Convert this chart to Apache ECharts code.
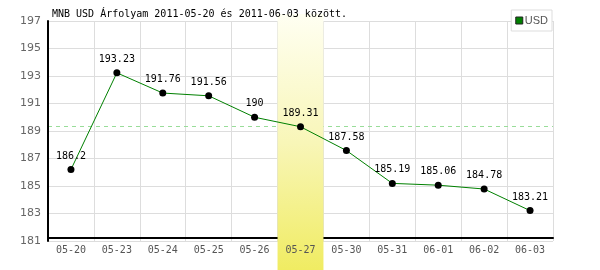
<!DOCTYPE html>
<html><head><meta charset="utf-8">
<script src="https://cdn.jsdelivr.net/npm/echarts@6/dist/echarts.min.js"></script>
<style>html,body{margin:0;padding:0;background:#fff}#c{width:600px;height:270px}</style>
</head><body><div id="c"></div>
<script>
const categories = ['05-20','05-23','05-24','05-25','05-26','05-27','05-30','05-31','06-01','06-02','06-03'];
const usdValues = [186.2,193.23,191.76,191.56,190,189.31,187.58,185.19,185.06,184.78,183.21];
const highlightDay = '05-27';
const highlightValue = 189.31;
const yMin = 181, yMax = 197, yStep = 2;
const titleText = 'MNB USD Árfolyam 2011-05-20 és 2011-06-03 között.';
const seriesName = 'USD';

const chart = echarts.init(document.getElementById('c'), null, {renderer:'canvas'});
const mono = 'DejaVu Sans Mono';
chart.setOption({
  animation:false,
  backgroundColor:'#fff',
  title:{text:titleText,left:52,top:9,padding:0,textStyle:{fontFamily:mono,fontSize:10,fontWeight:'normal',color:'#000'}},
  legend:{data:[{name:seriesName,icon:'rect'}],right:48,top:10,padding:[5,4,5,4],itemWidth:7,itemHeight:7,itemGap:4,
    borderColor:'#ddd',borderWidth:1,backgroundColor:'#fff',
    textStyle:{fontFamily:'Liberation Sans',fontSize:11,color:'#555',padding:[0,0,0,-3]},
    itemStyle:{color:'#008000',borderColor:'#222',borderWidth:1}},
  grid:{left:48,right:47,top:21,bottom:29},
  xAxis:[
    {type:'category',data:categories,boundaryGap:true,offset:-3,z:3,
     axisLine:{show:false},axisTick:{show:false},
     axisLabel:{fontFamily:mono,fontSize:10,color:'#555',margin:7},
     splitLine:{show:false}},
    {type:'category',data:categories,boundaryGap:true,position:'bottom',offset:-3,z:0,
     axisLine:{lineStyle:{color:'#000',width:2}},axisTick:{show:false},axisLabel:{show:false},
     splitLine:{show:true,lineStyle:{color:'#ddd',width:1}}}
  ],
  yAxis:{type:'value',min:yMin,max:yMax,interval:yStep,
    axisLine:{show:true,lineStyle:{color:'#000',width:2}},axisTick:{show:false},
    axisLabel:{fontFamily:'DejaVu Sans',fontSize:11,color:'#666',margin:7},
    splitLine:{show:true,lineStyle:{color:'#ddd',width:1}}},
  series:[
    {name:'ref',type:'line',data:[],z:0,silent:true,xAxisIndex:0,
     markLine:{silent:true,symbol:'none',label:{show:false},z:0,
       lineStyle:{type:[4,4],color:'#99dd99',width:1},data:[{yAxis:highlightValue}]}},
    {name:seriesName,type:'line',data:usdValues,clip:false,xAxisIndex:0,
     lineStyle:{color:'#008000',width:1},itemStyle:{color:'#000'},
     symbol:'circle',symbolSize:7,z:4,
     label:{show:true,position:'top',distance:5,fontFamily:mono,fontSize:10,color:'#000'}}
  ]
});
// highlight band for the chosen day, positioned through the category axis
const cx = chart.convertToPixel({xAxisIndex:0}, highlightDay);
const step = chart.convertToPixel({xAxisIndex:0}, categories[1]) - chart.convertToPixel({xAxisIndex:0}, categories[0]);
chart.setOption({
  graphic:[{type:'rect',z:1,silent:true,
    shape:{x:cx-step/2,y:14,width:step,height:256},
    style:{fill:new echarts.graphic.LinearGradient(0,0,0,1,[{offset:0,color:'#fffff2'},{offset:0.5,color:'#f8f6b8'},{offset:1,color:'#f0ec62'}])}}]
});
</script></body></html>
